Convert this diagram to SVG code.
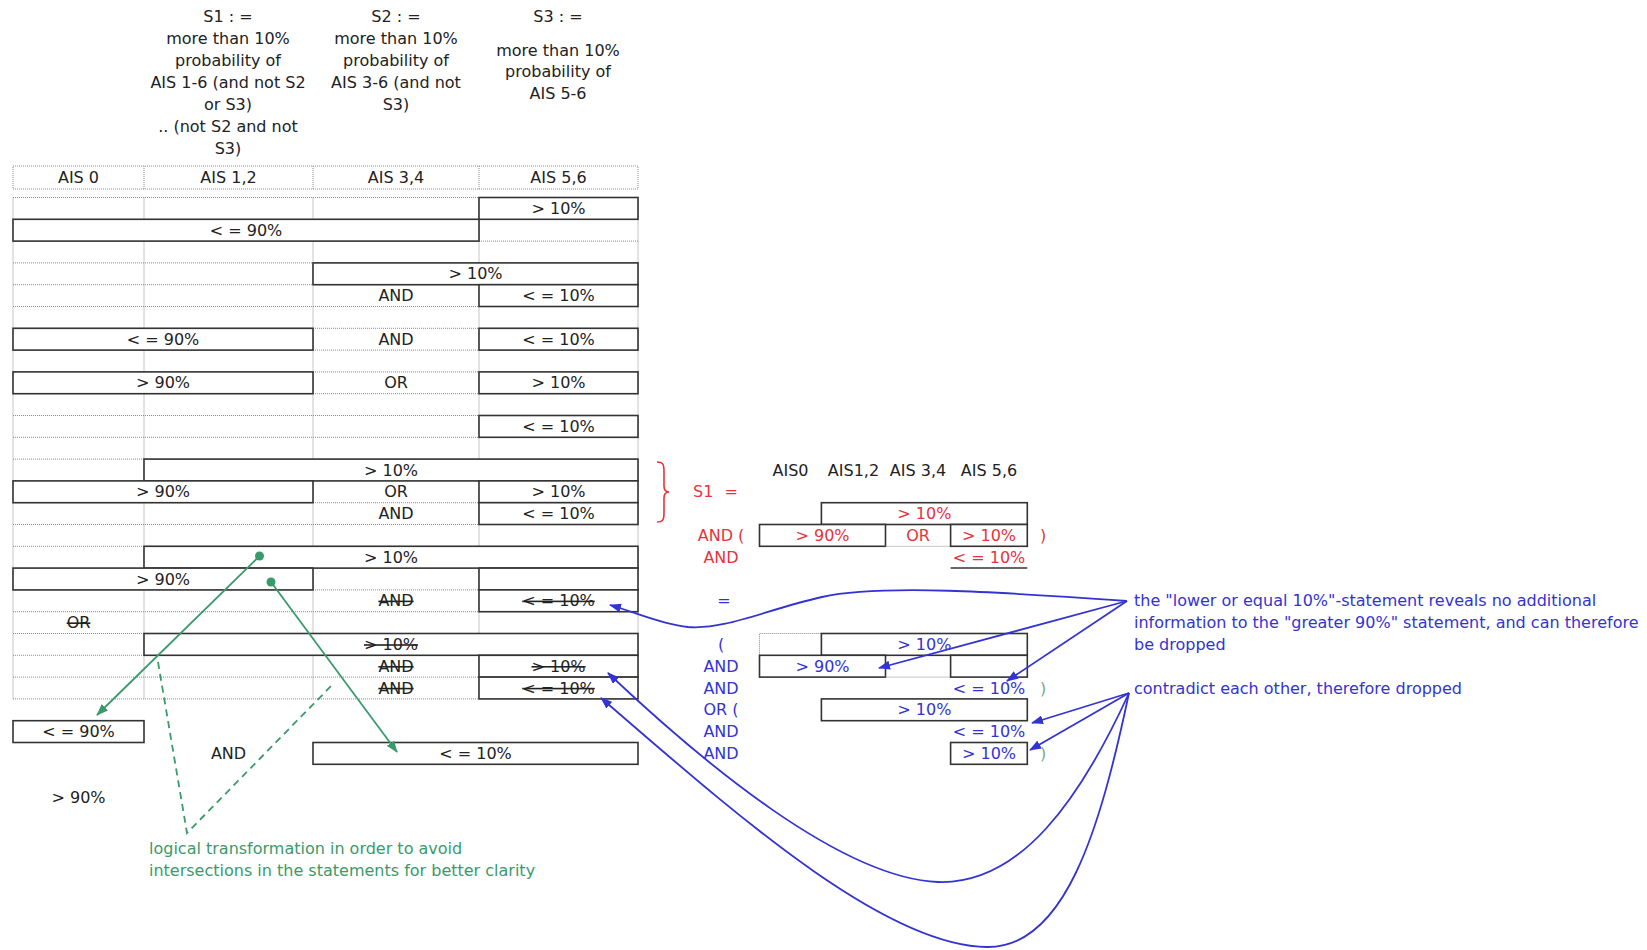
<svg xmlns="http://www.w3.org/2000/svg" width="1647" height="950" viewBox="0 0 1647 950">
<style>
text{font-family:"DejaVu Sans",Verdana,sans-serif;font-size:16px;fill:#222;text-anchor:middle}
.l{text-anchor:start}
.s{text-decoration:line-through}
.r{fill:#e8323c}
.b{fill:#3333d4}
.g{fill:#3a9a6a}
.gy{fill:#7aa68c}
.grid{fill:none;stroke:#8c8c8c;stroke-width:1;stroke-dasharray:1 1}
.box{fill:#fff;stroke:#333;stroke-width:1.6}
.ln{fill:none;stroke:#333;stroke-width:1.6}
.bl{fill:none;stroke:#3333d4;stroke-width:1.8}
.gl{fill:none;stroke:#3a9a6a;stroke-width:1.8}
</style>
<defs>
<marker id="ab" markerWidth="12" markerHeight="9" refX="11" refY="4.5" orient="auto" markerUnits="userSpaceOnUse"><path d="M0,0 L12,4.5 L0,9 z" fill="#3333d4"/></marker>
<marker id="ag" markerWidth="12" markerHeight="9" refX="11" refY="4.5" orient="auto" markerUnits="userSpaceOnUse"><path d="M0,0 L12,4.5 L0,9 z" fill="#3a9a6a"/></marker>
</defs>
<rect width="1647" height="950" fill="#fff"/>

<g id="col-headers">
<text x="228" y="22">S1 : =</text>
<text x="228" y="44">more than 10%</text>
<text x="228" y="66">probability of</text>
<text x="228" y="88">AIS 1-6 (and not S2</text>
<text x="228" y="110">or S3)</text>
<text x="228" y="132">.. (not S2 and not</text>
<text x="228" y="154">S3)</text>
<text x="396" y="22">S2 : =</text>
<text x="396" y="44">more than 10%</text>
<text x="396" y="66">probability of</text>
<text x="396" y="88">AIS 3-6 (and not</text>
<text x="396" y="110">S3)</text>
<text x="558" y="22">S3 : =</text>
<text x="558" y="56">more than 10%</text>
<text x="558" y="77">probability of</text>
<text x="558" y="99">AIS 5-6</text>
</g>

<g id="header-row">
<rect class="grid" x="13" y="166" width="625" height="23"/>
<path class="grid" d="M144 166V189M313 166V189M479 166V189"/>
<text x="78.5" y="183">AIS 0</text>
<text x="228.5" y="183">AIS 1,2</text>
<text x="396" y="183">AIS 3,4</text>
<text x="558.5" y="183">AIS 5,6</text>
</g>

<g id="grid">
<path class="grid" d="M13 197.5H638M13 219.3H638M13 241.1H638M13 262.9H638M13 284.7H638M13 306.5H638M13 328.3H638M13 350.1H638M13 371.9H638M13 393.7H638M13 415.5H638M13 437.3H638M13 459.1H638M13 480.9H638M13 502.7H638M13 524.5H638M13 546.3H638M13 568.1H638M13 589.9H638M13 611.7H638M13 633.5H638M13 655.3H638M13 677.1H638M13 698.9H638M13 197.5V698.9M144 197.5V698.9M313 197.5V698.9M479 197.5V698.9M638 197.5V698.9"/>
</g>

<g id="r1"><rect class="box" x="479" y="197.5" width="159" height="21.8"/><text x="558.5" y="214">&gt; 10%</text></g>
<g id="r2"><rect class="box" x="13" y="219.3" width="466" height="21.8"/><text x="246" y="235.8">&lt; = 90%</text></g>
<g id="r4"><rect class="box" x="313" y="262.9" width="325" height="21.8"/><text x="475.5" y="279.4">&gt; 10%</text></g>
<g id="r5"><text x="396" y="301.2">AND</text><rect class="box" x="479" y="284.7" width="159" height="21.8"/><text x="558.5" y="301.2">&lt; = 10%</text></g>
<g id="r7"><rect class="box" x="13" y="328.3" width="300" height="21.8"/><text x="163" y="344.8">&lt; = 90%</text><text x="396" y="344.8">AND</text><rect class="box" x="479" y="328.3" width="159" height="21.8"/><text x="558.5" y="344.8">&lt; = 10%</text></g>
<g id="r9"><rect class="box" x="13" y="371.9" width="300" height="21.8"/><text x="163" y="388.4">&gt; 90%</text><text x="396" y="388.4">OR</text><rect class="box" x="479" y="371.9" width="159" height="21.8"/><text x="558.5" y="388.4">&gt; 10%</text></g>
<g id="r11"><rect class="box" x="479" y="415.5" width="159" height="21.8"/><text x="558.5" y="432">&lt; = 10%</text></g>
<g id="r13"><rect class="box" x="144" y="459.1" width="494" height="21.8"/><text x="391" y="475.6">&gt; 10%</text></g>
<g id="r14"><rect class="box" x="13" y="480.9" width="300" height="21.8"/><text x="163" y="497.4">&gt; 90%</text><text x="396" y="497.4">OR</text><rect class="box" x="479" y="480.9" width="159" height="21.8"/><text x="558.5" y="497.4">&gt; 10%</text></g>
<g id="r15"><text x="396" y="519.2">AND</text><rect class="box" x="479" y="502.7" width="159" height="21.8"/><text x="558.5" y="519.2">&lt; = 10%</text></g>
<g id="r17"><rect class="box" x="144" y="546.3" width="494" height="21.8"/><text x="391" y="562.8">&gt; 10%</text></g>
<g id="r18"><rect class="box" x="13" y="568.1" width="300" height="21.8"/><text x="163" y="584.6">&gt; 90%</text><rect class="box" x="479" y="568.1" width="159" height="21.8"/></g>
<g id="r19"><text class="s" x="396" y="606.4">AND</text><rect class="box" x="479" y="589.9" width="159" height="21.8"/><text class="s" x="558.5" y="606.4">&lt; = 10%</text></g>
<g id="r20"><text class="s" x="78.5" y="628.2">OR</text></g>
<g id="r21"><rect class="box" x="144" y="633.5" width="494" height="21.8"/><text class="s" x="391" y="650">&gt; 10%</text></g>
<g id="r22"><text class="s" x="396" y="671.8">AND</text><rect class="box" x="479" y="655.3" width="159" height="21.8"/><text class="s" x="558.5" y="671.8">&gt; 10%</text></g>
<g id="r23"><text class="s" x="396" y="693.6">AND</text><rect class="box" x="479" y="677.1" width="159" height="21.8"/><text class="s" x="558.5" y="693.6">&lt; = 10%</text></g>
<g id="r25"><rect class="box" x="13" y="720.7" width="131" height="21.8"/><text x="78.5" y="737.2">&lt; = 90%</text></g>
<g id="r26"><text x="228.5" y="759">AND</text><rect class="box" x="313" y="742.5" width="325" height="21.8"/><text x="475.5" y="759">&lt; = 10%</text></g>
<g id="r28"><text x="78.5" y="802.6">&gt; 90%</text></g>

<g id="green-note">
<text class="g l" x="149" y="854">logical transformation in order to avoid</text>
<text class="g l" x="149" y="876">intersections in the statements for better clarity</text>
</g>

<g id="s1-red">
<path d="M657 462C664 462 664 466 664 472V486C664 490 666 492 669 492C666 492 664 494 664 498V512C664 518 664 522 657 522" fill="none" stroke="#e8323c" stroke-width="1.6"/>
<text class="r l" x="693" y="497.4" style="word-spacing:6px">S1 =</text>
<text x="790.5" y="475.6">AIS0</text>
<text x="853.5" y="475.6">AIS1,2</text>
<text x="918" y="475.6">AIS 3,4</text>
<text x="989" y="475.6">AIS 5,6</text>
<rect class="box" x="821.4" y="502.7" width="205.9" height="21.8"/><text class="r" x="924.4" y="519.2">&gt; 10%</text>
<text class="r" x="721" y="541">AND (</text>
<rect class="box" x="759.5" y="524.5" width="126" height="21.8"/><text class="r" x="822.5" y="541">&gt; 90%</text>
<path class="grid" d="M885.5 546.3H950.6"/>
<text class="r" x="918" y="541">OR</text>
<rect class="box" x="950.6" y="524.5" width="76.7" height="21.8"/><text class="r" x="989" y="541">&gt; 10%</text>
<text class="r" x="1043" y="541">)</text>
<text class="r" x="721" y="562.8">AND</text>
<text class="r" x="989" y="562.8">&lt; = 10%</text>
<path class="ln" d="M950.6 568H1027.3"/>
</g>

<g id="s1-blue">
<text class="b" x="724" y="606.4">=</text>
<text class="b" x="721" y="650">(</text>
<path class="grid" d="M759.5 655.3V633.5H821.4"/>
<rect class="box" x="821.4" y="633.5" width="205.9" height="21.8"/><text class="b" x="924.4" y="650">&gt; 10%</text>
<text class="b" x="721" y="671.8">AND</text>
<rect class="box" x="759.5" y="655.3" width="126" height="21.8"/><text class="b" x="822.5" y="671.8">&gt; 90%</text>
<path class="grid" d="M885.5 677.1H950.6"/>
<rect class="box" x="950.6" y="655.3" width="76.7" height="21.8"/>
<text class="b" x="721" y="693.6">AND</text>
<text class="b" x="989" y="693.6">&lt; = 10%</text>
<text class="gy" x="1043" y="693.6">)</text>
<text class="b" x="721" y="715.4">OR (</text>
<rect class="box" x="821.4" y="698.9" width="205.9" height="21.8"/><text class="b" x="924.4" y="715.4">&gt; 10%</text>
<text class="b" x="721" y="737.2">AND</text>
<text class="b" x="989" y="737.2">&lt; = 10%</text>
<text class="b" x="721" y="759">AND</text>
<rect class="box" x="950.6" y="742.5" width="76.7" height="21.8"/><text class="b" x="989" y="759">&gt; 10%</text>
<text class="gy" x="1043" y="759">)</text>
</g>

<g id="blue-notes">
<text class="b l" x="1134" y="606.4">the "lower or equal 10%"-statement reveals no additional</text>
<text class="b l" x="1134" y="628.2">information to the "greater 90%" statement, and can therefore</text>
<text class="b l" x="1134" y="650">be dropped</text>
<text class="b l" x="1134" y="693.6">contradict each other, therefore dropped</text>
</g>

<g id="connectors">
<circle cx="259.5" cy="556" r="4.5" fill="#3a9a6a"/>
<circle cx="271" cy="582" r="4.5" fill="#3a9a6a"/>
<path class="gl" d="M259.5 556L97 715" marker-end="url(#ag)"/>
<path class="gl" d="M271 582L397 752" marker-end="url(#ag)"/>
<path class="gl" d="M158 662L187 833L334 683" stroke-dasharray="7 5"/>
<path class="bl" d="M1127 601C1000 592 880 584 822 597C765 610 725 630 688 627C660 624 635 612 610 605" marker-end="url(#ab)"/>
<path class="bl" d="M1127 601L879 668" marker-end="url(#ab)"/>
<path class="bl" d="M1127 601L1007 681" marker-end="url(#ab)"/>
<path class="bl" d="M1129 693L1032 723" marker-end="url(#ab)"/>
<path class="bl" d="M1129 693L1030 750" marker-end="url(#ab)"/>
<path class="bl" d="M1129 693C1080 800 1020 885 938 882C840 878 700 760 608 673" marker-end="url(#ab)"/>
<path class="bl" d="M1129 693C1100 830 1065 948 987 947C880 946 720 800 601 698" marker-end="url(#ab)"/>
</g>
</svg>
